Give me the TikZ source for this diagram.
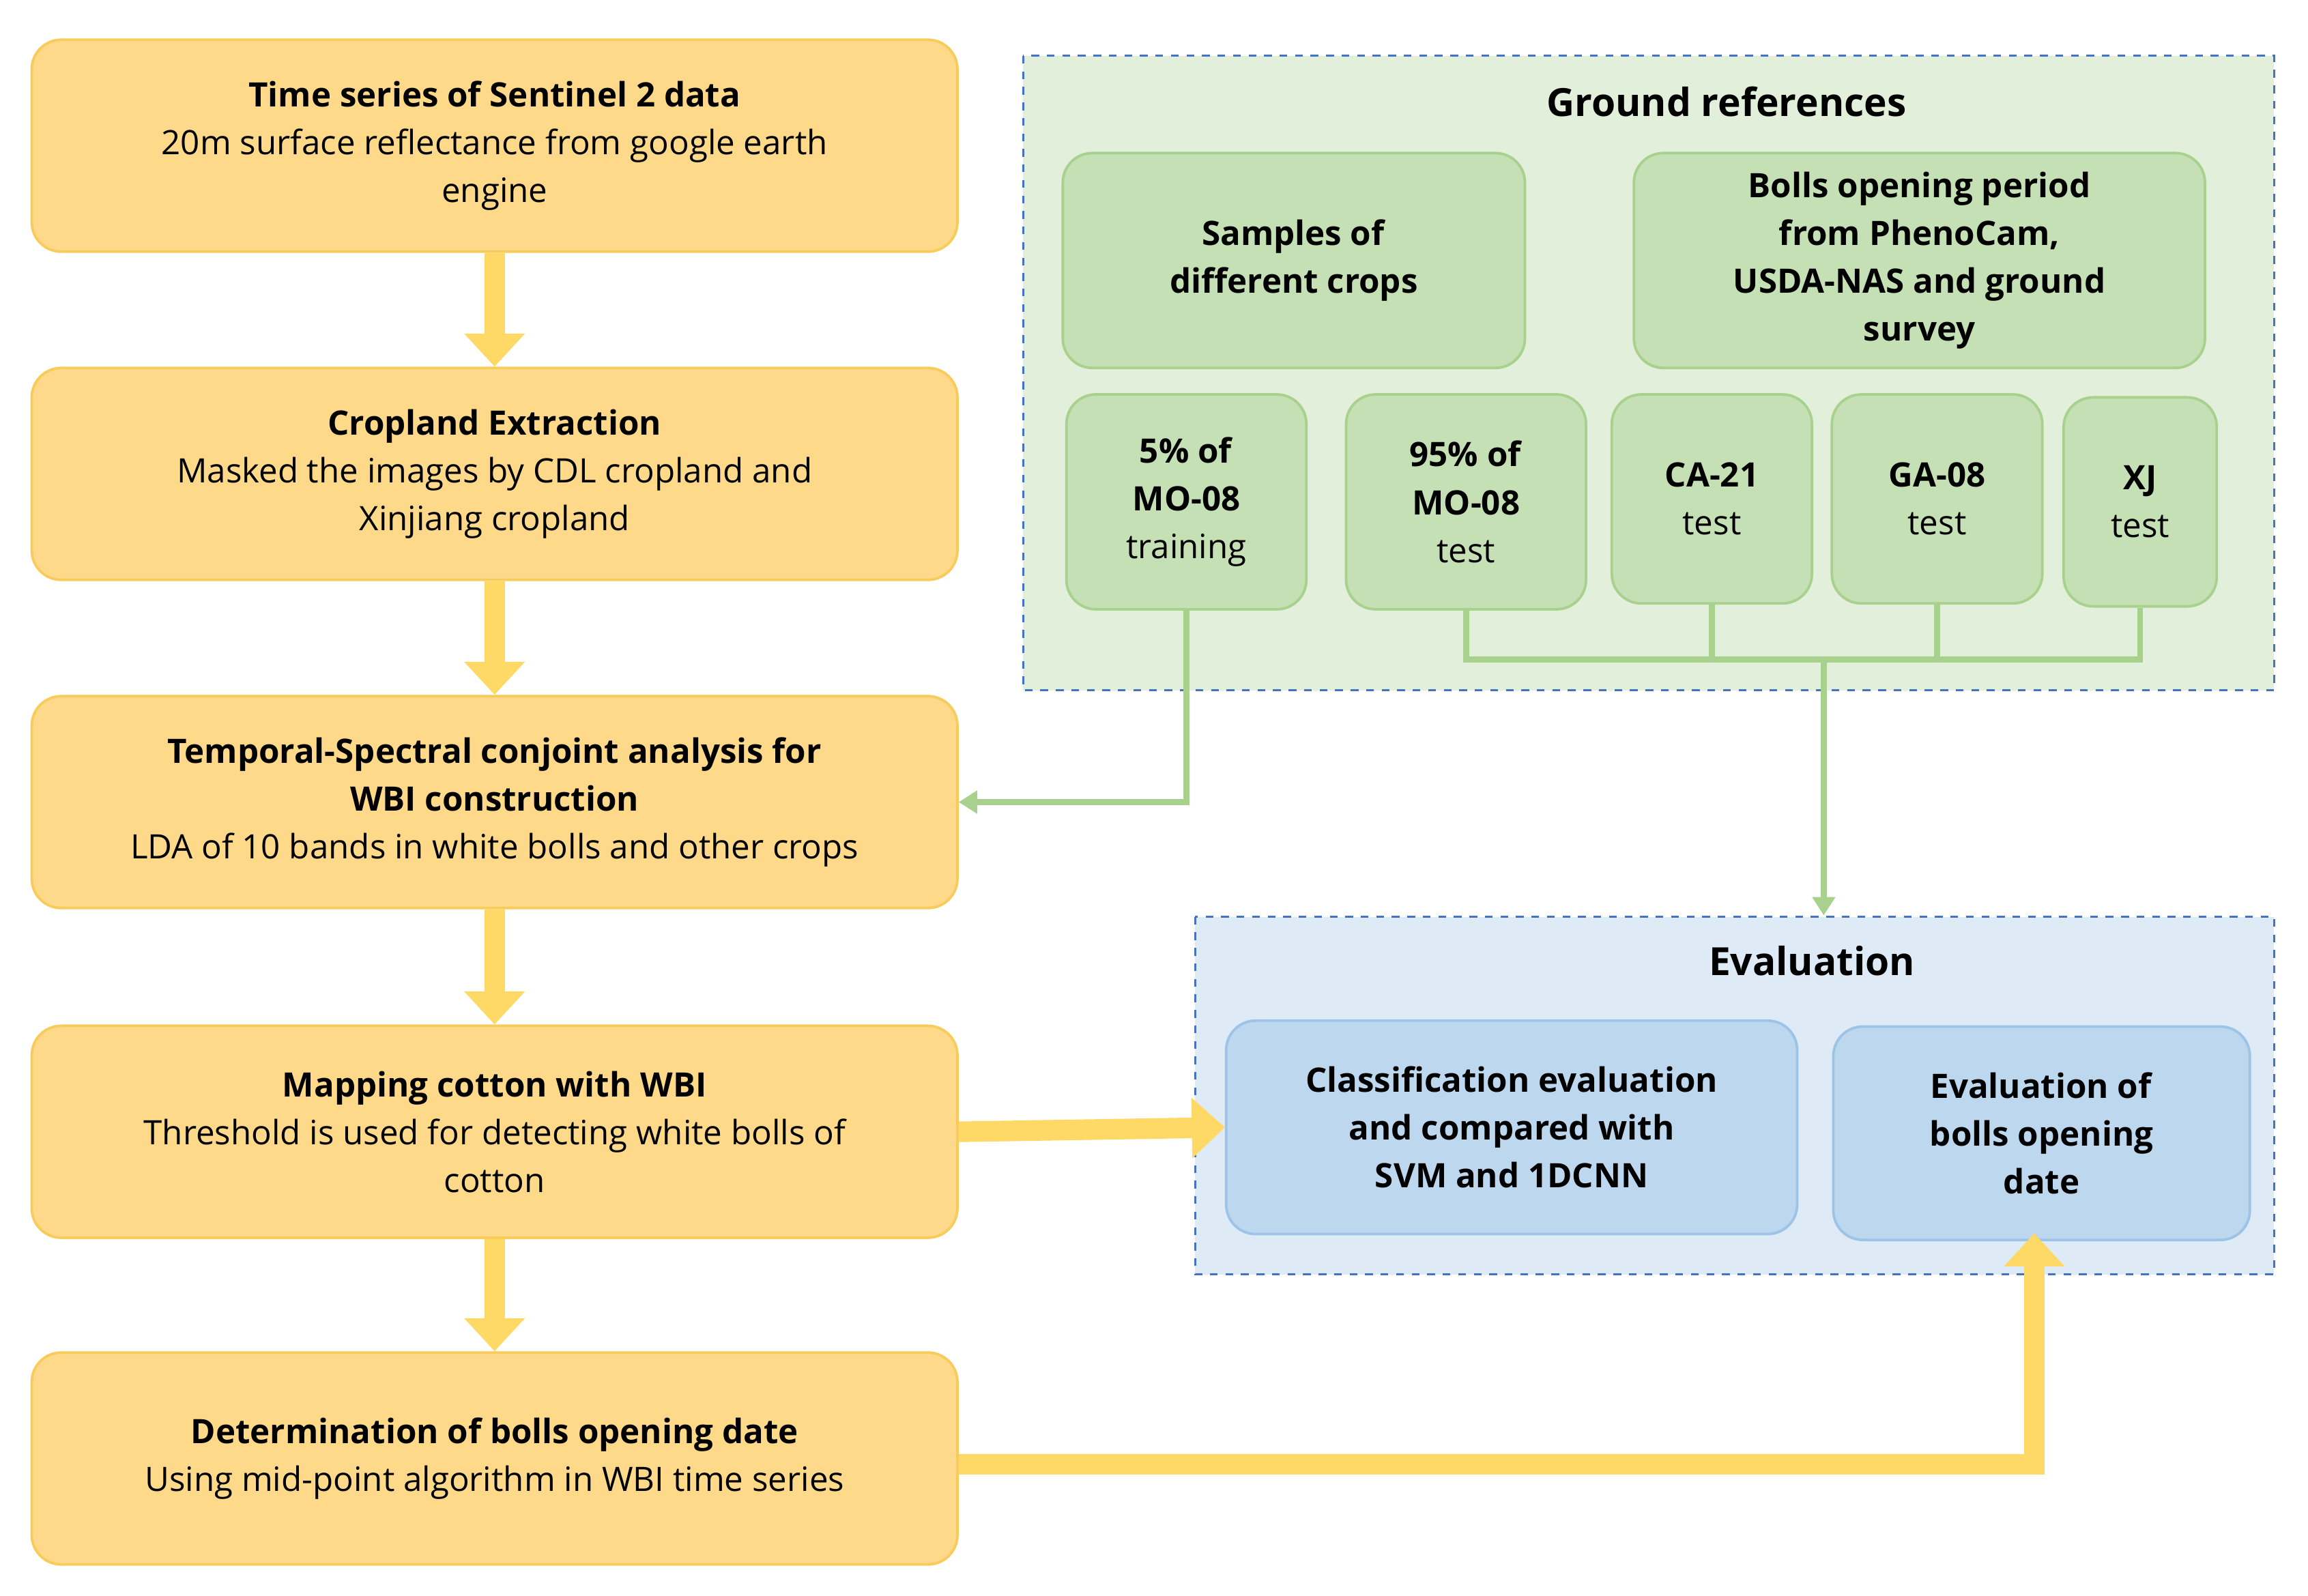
\documentclass[tikz,border=0pt]{standalone}
\usepackage{fontspec}
\setmainfont{Open Sans}
\usetikzlibrary{arrows.meta}
\definecolor{ofill}{HTML}{FED989}
\definecolor{oline}{HTML}{F8CB5A}
\definecolor{yarrow}{HTML}{FFD966}
\definecolor{gbg}{HTML}{E2EFDA}
\definecolor{gfill}{HTML}{C5E0B4}
\definecolor{gline}{HTML}{A9D18E}
\definecolor{bbg}{HTML}{DEEBF7}
\definecolor{bfill}{HTML}{BDD7EE}
\definecolor{bline}{HTML}{9DC3E6}
\definecolor{dash}{HTML}{4472C4}
\begin{document}
\begin{tikzpicture}[x=0.02cm,y=-0.02cm,
  font=\fontsize{13}{18.5}\selectfont,
  obox/.style={draw=oline,line width=1pt,fill=ofill,rounded corners=0.4cm,
    minimum width=12.58cm,minimum height=2.88cm,align=center,inner sep=0pt},
  gbox/.style={draw=gline,line width=1pt,fill=gfill,rounded corners=0.4cm,
    align=center,inner sep=0pt},
  bbox/.style={draw=bline,line width=1pt,fill=bfill,rounded corners=0.4cm,
    align=center,inner sep=0pt},
  group/.style={draw=dash,dashed,line width=0.8pt},
  yarr/.style={draw=yarrow,line width=0.28cm,-{Triangle[width=0.8cm,length=0.45cm]}},
  ylink/.style={draw=yarrow,line width=0.28cm},
  garr/.style={draw=gline,line width=0.08cm,-{Triangle[width=0.3cm,length=0.25cm]}},
  glink/.style={draw=gline,line width=0.08cm}]
\useasboundingbox (0,0) rectangle (1568,1084);
% left column
\node[obox] (b1) at (336,99) {\textbf{Time series of Sentinel 2 data}\\20m surface reflectance from google earth\\engine};
\node[obox] (b2) at (336,322) {\textbf{Cropland Extraction}\\Masked the images by CDL cropland and\\Xinjiang cropland};
\node[obox] (b3) at (336,545) {\textbf{Temporal-Spectral conjoint analysis for}\\\textbf{WBI construction}\\LDA of 10 bands in white bolls and other crops};
\node[obox] (b4) at (336,769) {\textbf{Mapping cotton with WBI}\\Threshold is used for detecting white bolls of\\cotton};
\node[obox] (b5) at (336,991) {\textbf{Determination of bolls opening date}\\Using mid-point algorithm in WBI time series};
\draw[yarr] (b1.south) -- (b2.north);
\draw[yarr] (b2.south) -- (b3.north);
\draw[yarr] (b3.south) -- (b4.north);
\draw[yarr] (b4.south) -- (b5.north);
% ground references
\draw[group,fill=gbg] (695,38) rectangle (1545,469);
\node (gt) at (1173,69) {\fontsize{15}{18}\selectfont\textbf{Ground references}};
\node[gbox,minimum width=6.28cm,minimum height=2.92cm] (gs) at (879,177) {\textbf{Samples of}\\\textbf{different crops}};
\node[gbox,minimum width=7.76cm,minimum height=2.92cm] (gb) at (1304,177) {\textbf{Bolls opening period}\\\textbf{from PhenoCam,}\\\textbf{USDA-NAS and ground}\\\textbf{survey}};
\node[gbox,minimum width=3.26cm,minimum height=2.92cm] (s1) at (806,341) {\textbf{5\% of}\\\textbf{MO-08}\\training};
\node[gbox,minimum width=3.26cm,minimum height=2.92cm] (s2) at (996,341) {\textbf{95\% of}\\\textbf{MO-08}\\test};
\node[gbox,minimum width=2.72cm,minimum height=2.84cm] (s3) at (1163,339) {\textbf{CA-21}\\test};
\node[gbox,minimum width=2.86cm,minimum height=2.84cm] (s4) at (1316,339) {\textbf{GA-08}\\test};
\node[gbox,minimum width=2.08cm,minimum height=2.84cm] (s5) at (1454,341) {\textbf{XJ}\\test};
% evaluation
\draw[group,fill=bbg] (812,623) rectangle (1545,866);
\node (et) at (1231,653) {\fontsize{15}{18}\selectfont\textbf{Evaluation}};
\node[bbox,minimum width=7.76cm,minimum height=2.9cm] (e1) at (1027,766) {\textbf{Classification evaluation}\\\textbf{and compared with}\\\textbf{SVM and 1DCNN}};
\node[bbox,minimum width=5.66cm,minimum height=2.9cm] (e2) at (1387,770) {\textbf{Evaluation of}\\\textbf{bolls opening}\\\textbf{date}};
% green connectors
\coordinate (j0) at (996,448);
\coordinate (j5) at (1454,448);
\coordinate (jm) at (1239,448);
\draw[glink] (s2.south) -- (j0) -- (j5) -- (s5.south);
\draw[glink] (s3.south) -- (s3.south |- j0);
\draw[glink] (s4.south) -- (s4.south |- j0);
\draw[garr] (jm) -- (1239,622);
\draw[garr] (s1.south) |- (b3.east);
% yellow connectors
\draw[yarr] (b4.east) -- (e1.west);
\coordinate (k1) at (1382,995);
\draw[yarr] (b5.east |- k1) -- (k1) -- (1382,838);
\end{tikzpicture}
\end{document}
